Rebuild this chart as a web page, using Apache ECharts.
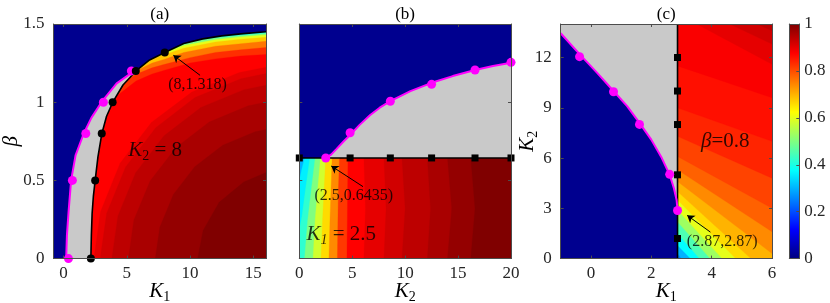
<!DOCTYPE html>
<html>
<head>
<meta charset="utf-8">
<script src="https://cdn.jsdelivr.net/npm/echarts@6/dist/echarts.min.js"></script>
<style>html,body{margin:0;padding:0;background:#fff;}#chart{width:830px;height:303px;}</style>
</head>
<body>
<div id="chart"></div>
<script>
// ================= DATA =================
// ---- Panel (a): K2 = 8, (K1, beta) plane
const aK1Range = [-0.8, 16];
const aBetaRange = [0, 1.5];
const aK1Ticks = [0, 5, 10, 15];
const aBetaTicks = [0, 0.5, 1, 1.5];
const aBlackCurve = [[2.16,0],[2.2,0.15],[2.26,0.29],[2.36,0.4],[2.5,0.5],[2.72,0.65],[3.03,0.8],[3.4,0.91],[3.89,1.0],[4.7,1.11],[5.73,1.2],[6.8,1.27],[8,1.318],[9.5,1.375],[11,1.405],[12.5,1.424],[14,1.437],[16,1.45]];
const aMagentaCurve = [[0.21,0],[0.27,0.15],[0.4,0.3],[0.6,0.5],[0.95,0.66],[1.6,0.8],[2.2,0.9],[3.0,1.0],[4.2,1.12],[5.6,1.2]];
const aBlackDots = [[2.16,0],[2.5,0.5],[3.02,0.8],[3.88,1.0],[5.71,1.2],[8,1.318]];
const aMagentaDots = [[0.39,0],[0.7,0.5],[1.76,0.8],[3.15,1.0],[5.36,1.2]];
const aFieldBase = 0.40;
const aFringeLevels = [0.5, 0.6, 0.68, 0.76, 0.83, 0.875];
const aFringeLines = [
  [[10.5,1.393],[12,1.41],[14,1.426],[16,1.44]],
  [[8.3,1.326],[9.5,1.362],[12,1.4],[14,1.417],[16,1.43]],
  [[7,1.28],[8,1.305],[9.5,1.345],[12,1.385],[14,1.402],[16,1.415]],
  [[5.73,1.2],[7,1.25],[8,1.275],[9.5,1.318],[12,1.358],[14,1.374],[16,1.39]],
  [[5.0,1.14],[5.73,1.178],[7,1.22],[8,1.242],[10,1.285],[12,1.318],[14,1.335],[16,1.35]],
  [[4.2,1.04],[5.73,1.135],[7,1.18],[8,1.205],[10,1.25],[12,1.277],[14,1.295],[16,1.305]]
];
const aArcLevels = [0.9, 0.92, 0.94, 0.96, 0.98, 1.0];
const aArcLines = [
  [[2.40,0],[2.92,0.30],[4.47,0.61],[6.94,0.87],[10.14,1.065],[13.89,1.19],[16,1.224]],
  [[2.90,0],[3.41,0.29],[4.91,0.586],[7.29,0.837],[10.39,1.03],[14.02,1.15],[16,1.183]],
  [[3.82,0],[4.30,0.273],[5.70,0.549],[7.94,0.785],[10.85,0.966],[14.26,1.08],[16,1.108]],
  [[5.13,0],[5.56,0.247],[6.84,0.496],[8.87,0.709],[11.51,0.873],[14.59,0.977],[16,1.0]],
  [[7.25,0],[7.61,0.20],[8.68,0.41],[10.37,0.588],[12.58,0.725],[15.14,0.811],[16,0.826]],
  [[10.6,0],[11.03,0.18],[12.3,0.36],[14.24,0.49],[16,0.55]]
];
const aNoteText = '(8,1.318)';
const aNoteAt = [10.59, 1.113];
const aArrow = [[10.79, 1.172], [8.68, 1.3]];
const aLabelAt = [7.24, 0.69];

// ---- Panel (b): K1 = 2.5, (K2, beta) plane
const bK2Range = [0, 20];
const bBetaRange = [0, 1.5];
const bK2Ticks = [0, 5, 10, 15, 20];
const bBetaTicks = [0, 0.5, 1, 1.5];
const bLineBeta = 0.6435;
const bSquaresK2 = [0, 4.8, 8.6, 12.5, 16.6, 20];
const bMagentaCurve = [[2.5,0.6435],[3.0,0.665],[3.5,0.7],[4.2,0.75],[4.8,0.79],[5.7,0.855],[6.7,0.918],[7.6,0.965],[8.6,1.007],[10.5,1.071],[12.5,1.124],[14.5,1.167],[16.6,1.206],[18.3,1.232],[20,1.252]];
const bMagentaDots = [[2.5,0.6435],[4.8,0.805],[8.6,1.006],[12.5,1.114],[16.6,1.206],[20,1.255]];
const bFieldBase = 0.30;
const bLevels = [0.36,0.42,0.5,0.58,0.66,0.74,0.82,0.875,0.9,0.92,0.94,0.96,0.98,1.0];
const bLines = [
  [[0.5,0.6435],[0.2,0.56],[0,0.5]],
  [[1.0,0.6435],[0.6,0.45],[0.25,0.27],[0,0.18]],
  [[1.5,0.6435],[1.15,0.45],[0.8,0.25],[0.5,0]],
  [[2.0,0.6435],[1.75,0.45],[1.5,0.25],[1.3,0]],
  [[2.5,0.6435],[2.35,0.45],[2.2,0.25],[2.05,0]],
  [[3.1,0.6435],[3.0,0.45],[2.9,0.25],[2.8,0]],
  [[3.8,0.6435],[3.7,0.45],[3.65,0.25],[3.6,0]],
  [[4.6,0.6435],[4.55,0.32],[4.5,0]],
  [[6.1,0.6435],[6.25,0.32],[6.1,0]],
  [[8.0,0.6435],[8.2,0.32],[8.0,0]],
  [[9.7,0.6435],[10.0,0.32],[9.7,0]],
  [[12.1,0.6435],[12.4,0.32],[12.1,0]],
  [[14.0,0.6435],[14.4,0.32],[14.0,0]],
  [[16.2,0.6435],[16.6,0.32],[16.2,0]]
];
const bNoteText = '(2.5,0.6435)';
const bNoteAt = [5.15, 0.402];
const bArrow = [[6.02, 0.46], [3.02, 0.592]];
const bLabelAt = [3.97, 0.152];

// ---- Panel (c): beta = 0.8, (K1, K2) plane
const cK1Range = [-1, 6];
const cK2Range = [0, 14];
const cK1Ticks = [0, 2, 4, 6];
const cK2Ticks = [0, 3, 6, 9, 12];
const cLineK1 = 2.87;
const cSquaresK2 = [1.2, 5, 8, 10, 12];
const cMagentaCurve = [[-1,13.45],[-0.375,12.2],[0.2,11.1],[0.75,10.0],[1.2,9.1],[1.61,8.1],[2.0,7.1],[2.35,6.0],[2.61,5.0],[2.75,4.2],[2.84,3.5],[2.87,2.87]];
const cMagentaDots = [[-0.375,12.05],[0.75,9.96],[1.61,8.01],[2.61,5.03],[2.87,2.87]];
const cFieldBase = 0.25;
const cLevels = [0.3,0.375,0.45,0.53,0.6,0.66,0.7,0.74,0.78,0.81,0.84,0.86,0.88,0.9,0.92,0.94];
const cLines = [
  [[2.87,0.3],[3.0,0]],
  [[2.87,0.8],[3.3,0]],
  [[2.87,1.5],[3.6,0]],
  [[2.87,2.2],[3.95,0]],
  [[2.87,2.9],[4.35,0]],
  [[2.87,3.5],[4.8,0]],
  [[2.87,4.0],[5.3,0]],
  [[2.87,4.6],[6,0.3]],
  [[2.87,5.3],[6,1.6]],
  [[2.87,6.1],[6,3.0]],
  [[2.87,7.3],[6,4.8]],
  [[2.87,9.0],[6,7.0]],
  [[2.87,11.5],[6,9.6]],
  [[3.5,14],[6,11.6]],
  [[4.6,14],[6,12.8]],
  [[5.5,14],[6,13.6]]
];
const cNoteText = '(2.87,2.87)';
const cNoteAt = [4.35, 0.985];
const cArrow = [[3.96, 1.58], [3.19, 2.58]];
const cLabelAt = [4.45, 7.0];

// ---- Colorbar
const cbTicks = [0, 0.2, 0.4, 0.6, 0.8, 1];

// ================= STYLE =================
const JET = ['#000080','#0000FF','#0080FF','#00FFFF','#80FF80','#FFFF00','#FF8000','#FF0000','#800000'];
const BLUE = '#00008F', GRAY = '#C9C9C9', MAG = '#FF00FF', INK = '#262626', BOX = '#4d4d4d';
const FONT = 'Liberation Serif';
const RICH = {
  k: {fontFamily: FONT, fontStyle: 'italic', fontSize: 21, color: '#000', lineHeight: 24},
  s: {fontFamily: FONT, fontSize: 14, color: '#000', lineHeight: 24, padding: [11, 0, 0, 0]},
  si: {fontFamily: FONT, fontStyle: 'italic', fontSize: 14, color: '#000', lineHeight: 24, padding: [11, 0, 0, 0]},
  n: {fontFamily: FONT, fontSize: 21, color: '#000', lineHeight: 24},
  b: {fontFamily: FONT, fontStyle: 'italic', fontSize: 21, color: '#000', lineHeight: 24},
  t: {fontFamily: FONT, fontSize: 16, color: '#000', lineHeight: 18}
};

// ================= BUILD POLYGONS (from the data above) =================
// (a)
const aPolys = [], aVals = [];
aPolys.push(aBlackCurve.concat([[aK1Range[1], aBetaRange[0]]])); aVals.push(aFieldBase);
aFringeLines.forEach((ln, i) => {
  const pre = aBlackCurve.filter(p => p[0] < ln[0][0]);
  aPolys.push(pre.concat(ln, [[aK1Range[1], aBetaRange[0]]])); aVals.push(aFringeLevels[i]);
});
aArcLines.forEach((ln, i) => { aPolys.push(ln.concat([[aK1Range[1], aBetaRange[0]]])); aVals.push(aArcLevels[i]); });
const aMagEnd = aMagentaCurve[aMagentaCurve.length - 1];
const aGray = aMagentaCurve.concat(aBlackCurve.filter(p => p[1] <= aMagEnd[1] + 1e-9).reverse());
const aBlue = [[aK1Range[0], aBetaRange[0]]].concat(aMagentaCurve, aBlackCurve.filter(p => p[0] > aMagEnd[0]), [[aK1Range[1], aBetaRange[1]], [aK1Range[0], aBetaRange[1]]]);

// (b)
const bPolys = [], bVals = [];
bPolys.push([[bK2Range[0], 0], [bK2Range[0], bLineBeta], [bK2Range[1], bLineBeta], [bK2Range[1], 0]]); bVals.push(bFieldBase);
bLines.forEach((ln, i) => {
  const out = ln.slice(); const e = ln[ln.length - 1];
  if (e[0] <= bK2Range[0] && e[1] > 0) out.push([bK2Range[0], 0]);
  out.push([bK2Range[1], 0], [bK2Range[1], bLineBeta]);
  bPolys.push(out); bVals.push(bLevels[i]);
});
const bGray = bMagentaCurve.concat([[bK2Range[1], bLineBeta]]);
const bBlue = [[bK2Range[0], bLineBeta]].concat(bMagentaCurve, [[bK2Range[1], bBetaRange[1]], [bK2Range[0], bBetaRange[1]]]);

// (c)
const cPolys = [], cVals = [];
cPolys.push([[cLineK1, 0], [cLineK1, cK2Range[1]], [cK1Range[1], cK2Range[1]], [cK1Range[1], 0]]); cVals.push(cFieldBase);
cLines.forEach((ln, i) => {
  const out = ln.slice(); const e = ln[ln.length - 1];
  if (e[1] <= 0) out.push([cK1Range[1], 0]);
  out.push([cK1Range[1], cK2Range[1]]);
  if (ln[0][0] <= cLineK1) out.push([cLineK1, cK2Range[1]]);
  cPolys.push(out); cVals.push(cLevels[i]);
});
const cGray = cMagentaCurve.concat([[cLineK1, cK2Range[1]], [cK1Range[0], cK2Range[1]]]);
const cBlue = cMagentaCurve.concat([[cLineK1, 0], [cK1Range[0], 0]]);

// ================= SERIES HELPERS =================
function fieldSeries(gi, polys, vals) {
  return {
    type: 'custom', coordinateSystem: 'cartesian2d', xAxisIndex: gi * 2, yAxisIndex: gi * 2,
    z: 1, clip: true, silent: true,
    data: vals.map((v, i) => [i, v]),
    renderItem: (params, api) => {
      const i = api.value(0);
      return {type: 'polygon', z2: i, shape: {points: polys[i].map(p => api.coord(p))},
              style: {fill: api.visual('color'), stroke: api.visual('color'), lineWidth: 0.3}};
    }
  };
}
function regionSeries(gi, polys, fills) {
  return {
    type: 'custom', coordinateSystem: 'cartesian2d', xAxisIndex: gi * 2, yAxisIndex: gi * 2,
    z: 2, clip: true, silent: true,
    data: polys.map((p, i) => [i]),
    renderItem: (params, api) => {
      const i = api.value(0);
      return {type: 'polygon', z2: i, shape: {points: polys[i].map(p => api.coord(p))}, style: {fill: fills[i]}};
    }
  };
}
function lineSeries(gi, data, color, width) {
  return {type: 'line', xAxisIndex: gi * 2, yAxisIndex: gi * 2, data: data, showSymbol: false, symbol: 'none',
          smooth: false, z: 4, silent: true, lineStyle: {color: color, width: width}};
}
function dotSeries(gi, data, color, symbol, size) {
  return {type: 'scatter', xAxisIndex: gi * 2, yAxisIndex: gi * 2, data: data, symbol: symbol, symbolSize: size,
          z: 5, silent: true, itemStyle: {color: color, opacity: 1}};
}
function arrowSeries(gi, seg) {
  return {type: 'lines', coordinateSystem: 'cartesian2d', xAxisIndex: gi * 2, yAxisIndex: gi * 2, z: 6, silent: true,
          symbol: ['none', 'arrow'], symbolSize: [0, 7],
          lineStyle: {color: '#000', width: 1, opacity: 1}, data: [{coords: seg}]};
}
function textSeries(gi, items) {
  return {
    type: 'scatter', xAxisIndex: gi * 2, yAxisIndex: gi * 2, z: 7, silent: true,
    symbol: 'circle', symbolSize: 1, itemStyle: {color: 'rgba(0,0,0,0)'},
    data: items.map(t => ({value: t.at, label: {formatter: t.text}})),
    label: {show: true, position: 'inside', color: '#000', fontFamily: FONT, fontSize: 16, rich: RICH}
  };
}

// ================= AXES =================
const tickLabel = {fontFamily: FONT, fontSize: 17, color: INK};
function xAxes(gi, range, ticks, name) {
  const bottom = {
    gridIndex: gi, type: 'value', min: range[0], max: range[1], position: 'bottom', z: 10,
    axisLine: {show: true, onZero: false, lineStyle: {color: BOX, width: 1}},
    axisTick: {show: true, inside: true, length: 3, customValues: ticks, lineStyle: {color: BOX}},
    axisLabel: Object.assign({show: true, customValues: ticks, margin: 6}, tickLabel),
    splitLine: {show: false},
    name: name, nameLocation: 'middle', nameGap: 21, nameMoveOverlap: false,
    nameTextStyle: {rich: RICH}
  };
  const top = {
    gridIndex: gi, type: 'value', min: range[0], max: range[1], position: 'top', z: 10,
    axisLine: {show: true, onZero: false, lineStyle: {color: BOX, width: 1}},
    axisTick: {show: true, inside: true, length: 3, customValues: ticks, lineStyle: {color: BOX}},
    axisLabel: {show: false}, splitLine: {show: false}
  };
  return [bottom, top];
}
function yAxes(gi, range, ticks, showLabels, name, nameGap) {
  const left = {
    gridIndex: gi, type: 'value', min: range[0], max: range[1], position: 'left', z: 10,
    axisLine: {show: true, onZero: false, lineStyle: {color: BOX, width: 1}},
    axisTick: {show: true, inside: true, length: 3, customValues: ticks, lineStyle: {color: BOX}},
    axisLabel: Object.assign({show: showLabels, customValues: ticks, margin: 9}, tickLabel),
    splitLine: {show: false},
    name: name || '', nameLocation: 'middle', nameGap: nameGap || 30, nameRotate: 90, nameMoveOverlap: false,
    nameTextStyle: {rich: RICH}
  };
  const right = {
    gridIndex: gi, type: 'value', min: range[0], max: range[1], position: 'right', z: 10,
    axisLine: {show: true, onZero: false, lineStyle: {color: BOX, width: 1}},
    axisTick: {show: true, inside: true, length: 3, customValues: ticks, lineStyle: {color: BOX}},
    axisLabel: {show: false}, splitLine: {show: false}
  };
  return [left, right];
}

const xAxis = [].concat(
  xAxes(0, aK1Range, aK1Ticks, '{k|K}{s|1}'),
  xAxes(1, bK2Range, bK2Ticks, '{k|K}{s|2}'),
  xAxes(2, cK1Range, cK1Ticks, '{k|K}{s|1}'),
  [{gridIndex: 3, type: 'value', min: 0, max: 1, position: 'bottom', z: 10,
    axisLine: {show: true, onZero: false, lineStyle: {color: BOX}}, axisTick: {show: false}, axisLabel: {show: false}, splitLine: {show: false}},
   {gridIndex: 3, type: 'value', min: 0, max: 1, position: 'top', z: 10,
    axisLine: {show: true, onZero: false, lineStyle: {color: BOX}}, axisTick: {show: false}, axisLabel: {show: false}, splitLine: {show: false}}]
);
const yAxis = [].concat(
  yAxes(0, aBetaRange, aBetaTicks, true, '{b|β}', 30),
  yAxes(1, bBetaRange, bBetaTicks, false),
  yAxes(2, cK2Range, cK2Ticks, true, '{k|K}{s|2}', 21),
  [{gridIndex: 3, type: 'value', min: 0, max: 1, position: 'left', z: 10,
    axisLine: {show: true, onZero: false, lineStyle: {color: BOX}}, axisTick: {show: false}, axisLabel: {show: false}, splitLine: {show: false}},
   {gridIndex: 3, type: 'value', min: 0, max: 1, position: 'right', z: 10,
    axisLine: {show: true, onZero: false, lineStyle: {color: BOX}},
    axisTick: {show: true, inside: true, length: 3, customValues: cbTicks, lineStyle: {color: BOX}},
    axisLabel: Object.assign({show: true, customValues: cbTicks, margin: 5}, tickLabel), splitLine: {show: false}}]
);

// ================= SERIES =================
const series = [
  fieldSeries(0, aPolys, aVals),
  fieldSeries(1, bPolys, bVals),
  fieldSeries(2, cPolys, cVals),
  regionSeries(0, [aGray, aBlue], [GRAY, BLUE]),
  regionSeries(1, [bGray, bBlue], [GRAY, BLUE]),
  regionSeries(2, [cGray, cBlue], [GRAY, BLUE]),
  lineSeries(0, aMagentaCurve, MAG, 2),
  lineSeries(0, aBlackCurve, '#000', 1.6),
  lineSeries(1, [[bK2Range[0], bLineBeta], [bK2Range[1], bLineBeta]], '#000', 1.6),
  lineSeries(1, bMagentaCurve, MAG, 2),
  lineSeries(2, [[cLineK1, cK2Range[0]], [cLineK1, cK2Range[1]]], '#000', 1.6),
  lineSeries(2, cMagentaCurve, MAG, 2),
  dotSeries(0, aMagentaDots, MAG, 'circle', 9),
  dotSeries(0, aBlackDots, '#000', 'circle', 8),
  dotSeries(1, bSquaresK2.map(k => [k, bLineBeta]), '#000', 'rect', 7),
  dotSeries(1, bMagentaDots, MAG, 'circle', 9),
  dotSeries(2, cSquaresK2.map(k => [cLineK1, k]), '#000', 'rect', 7),
  dotSeries(2, cMagentaDots, MAG, 'circle', 9),
  arrowSeries(0, aArrow), arrowSeries(1, bArrow), arrowSeries(2, cArrow),
  textSeries(0, [{at: aNoteAt, text: '{t|' + aNoteText + '}'}, {at: aLabelAt, text: '{k|K}{s|2}{n| = 8}'}]),
  textSeries(1, [{at: bNoteAt, text: '{t|' + bNoteText + '}'}, {at: bLabelAt, text: '{k|K}{si|1}{n| = 2.5}'}]),
  textSeries(2, [{at: cNoteAt, text: '{t|' + cNoteText + '}'}, {at: cLabelAt, text: '{b|β}{n|=0.8}'}]),
  { // colorbar
    type: 'custom', coordinateSystem: 'cartesian2d', xAxisIndex: 6, yAxisIndex: 6, z: 1, silent: true,
    data: [[0, 0]],
    renderItem: (params, api) => {
      const p0 = api.coord([0, 0]), p1 = api.coord([1, 1]);
      return {type: 'rect', shape: {x: p0[0], y: p1[1], width: p1[0] - p0[0], height: p0[1] - p1[1]},
              style: {fill: new echarts.graphic.LinearGradient(0, 1, 0, 0, JET.map((c, i) => ({offset: i / (JET.length - 1), color: c})))}};
    }
  }
];

const titleStyle = {fontFamily: FONT, fontSize: 17, fill: '#000', align: 'center', verticalAlign: 'middle'};
const gridBase = {outerBoundsMode: 'none', containLabel: false};
const option = {
  animation: false,
  backgroundColor: '#fff',
  textStyle: {fontFamily: FONT},
  grid: [
    Object.assign({left: 53.4, top: 24, width: 212.6, height: 234.6}, gridBase),
    Object.assign({left: 299.3, top: 24, width: 211.7, height: 234.6}, gridBase),
    Object.assign({left: 560.7, top: 24, width: 211.3, height: 234.6}, gridBase),
    Object.assign({left: 789.3, top: 24, width: 10, height: 234.6}, gridBase)
  ],
  xAxis: xAxis,
  yAxis: yAxis,
  visualMap: {type: 'continuous', show: false, min: 0, max: 1, dimension: 1, seriesIndex: [0, 1, 2], inRange: {color: JET}},
  graphic: [
    {type: 'text', x: 159.7, y: 6, style: Object.assign({text: '(a)'}, titleStyle, {verticalAlign: 'top'})},
    {type: 'text', x: 405.1, y: 6, style: Object.assign({text: '(b)'}, titleStyle, {verticalAlign: 'top'})},
    {type: 'text', x: 666.3, y: 6, style: Object.assign({text: '(c)'}, titleStyle, {verticalAlign: 'top'})}
  ],
  series: series
};
const chart = echarts.init(document.getElementById('chart'), null, {renderer: 'canvas'});
chart.setOption(option);
</script>
</body>
</html>
